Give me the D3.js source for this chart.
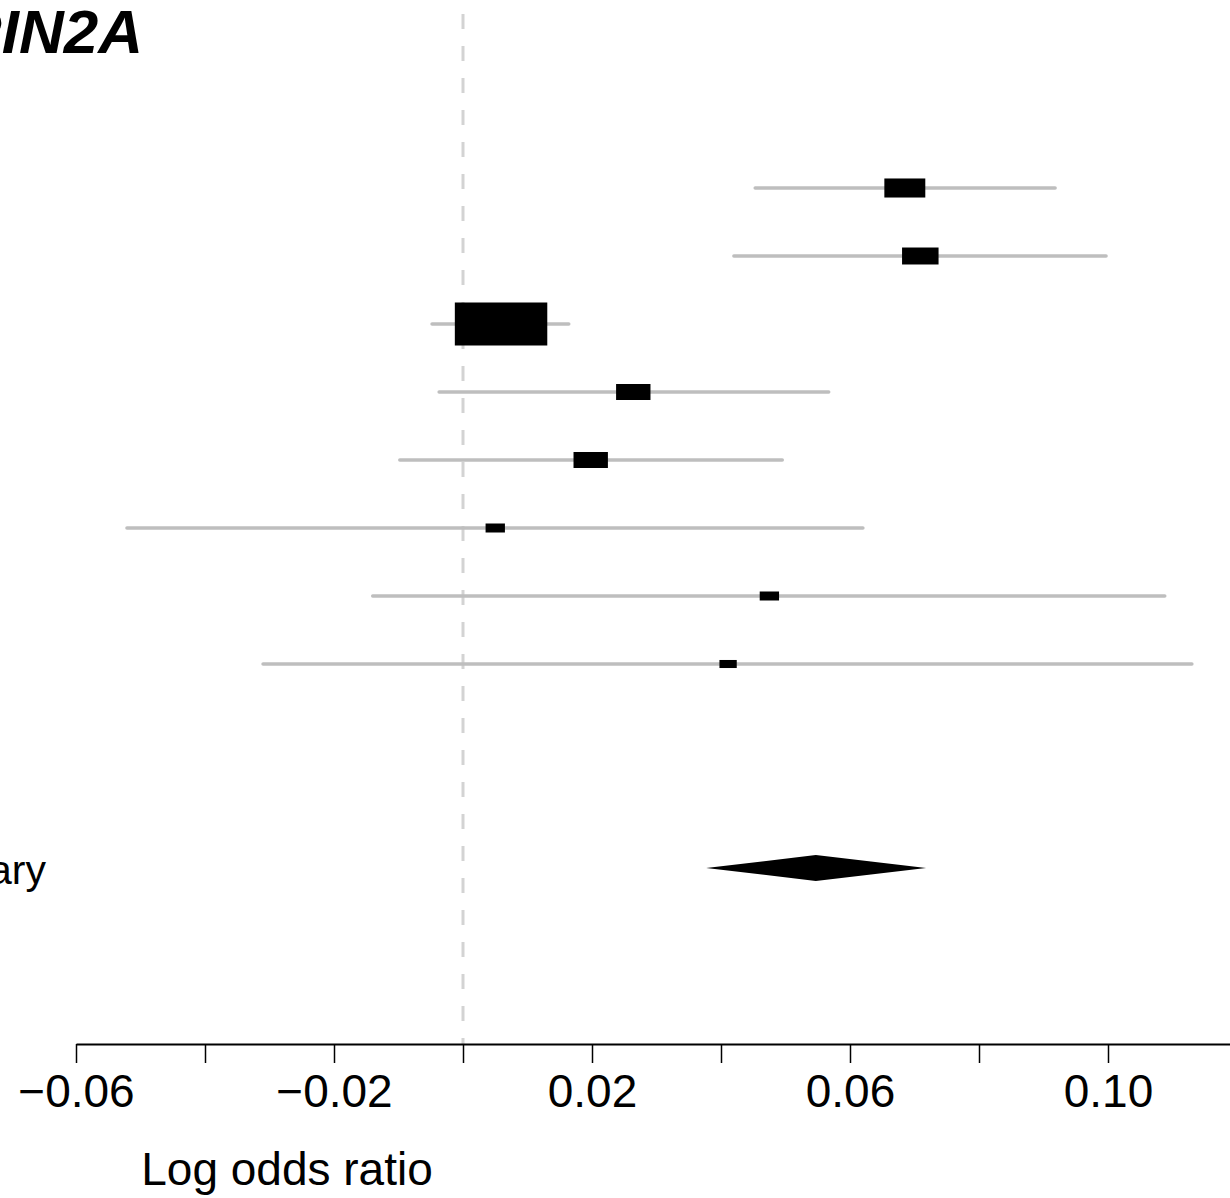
<!DOCTYPE html>
<html><head><meta charset="utf-8">
<script src="https://cdn.jsdelivr.net/npm/d3@7"></script>
<style>body{margin:0;background:#fff;} svg{display:block;font-family:"Liberation Sans",Arial,Helvetica,sans-serif;}</style>
</head><body><svg id="c" width="1230" height="1198"></svg>
<script>
const title = "GRIN2A";
const estimates = [0.0685, 0.0709, 0.0059, 0.0264, 0.0198, 0.0050, 0.0475, 0.0411];
const lower     = [0.0453, 0.0420, -0.0048, -0.0037, -0.0098, -0.0521, -0.0140, -0.0310];
const upper     = [0.0918, 0.0997, 0.0164, 0.0567, 0.0495, 0.0620, 0.1088, 0.1130];
const weights   = [11.2, 8.9, 57.1, 7.9, 7.9, 2.5, 2.5, 2.0];
const summaryLabel = "Summary";
const summaryEst = 0.0547, summaryLo = 0.0377, summaryHi = 0.0718;
const tickValues = [-0.06, -0.04, -0.02, 0, 0.02, 0.04, 0.06, 0.08, 0.10, 0.12];
const tickLabels = ["\u22120.06", "", "\u22120.02", "", "0.02", "", "0.06", "", "0.10", ""];
const xLabel = "Log odds ratio";

const svg = d3.select("#c");
const x = d3.scaleLinear().domain([-0.06, 0.12]).range([76, 1237]);
const y = d3.scaleLinear().domain([0, 10]).range([188, 868]);
const h = d3.scaleSqrt().domain([0, d3.max(weights)]).range([0, 43]);
const axisY = 1044;

// null line
svg.append("line").attr("x1", x(0)).attr("x2", x(0)).attr("y1", 14).attr("y2", axisY)
  .attr("stroke", "#d3d3d3").attr("stroke-width", 3).attr("stroke-dasharray", "15,17");

const rows = estimates.map((e, i) => ({e, lo: lower[i], hi: upper[i], w: weights[i], i}));
const g = svg.append("g");
g.selectAll("line.ci").data(rows).join("line").attr("class", "ci")
  .attr("x1", d => x(d.lo)).attr("x2", d => x(d.hi))
  .attr("y1", d => y(d.i)).attr("y2", d => y(d.i))
  .attr("stroke", "#bebebe").attr("stroke-width", 3.5).attr("stroke-linecap", "round");
g.selectAll("rect.box").data(rows).join("rect").attr("class", "box")
  .attr("x", d => x(d.e) - h(d.w) * 1.075).attr("width", d => h(d.w) * 2.15)
  .attr("y", d => y(d.i) - h(d.w) / 2).attr("height", d => h(d.w))
  .attr("fill", "#000");

// summary diamond
const sy = y(10);
svg.append("path")
  .attr("d", d3.line()([[x(summaryLo), sy], [x(summaryEst), sy - 13], [x(summaryHi), sy], [x(summaryEst), sy + 13]]) + "Z")
  .attr("fill", "#000");
svg.append("text").attr("x", 46).attr("y", sy + 16).attr("text-anchor", "end")
  .attr("font-size", 41).text(summaryLabel);

// title
svg.append("text").attr("x", 143).attr("y", 53).attr("text-anchor", "end")
  .attr("font-size", 62).attr("font-weight", "bold").attr("font-style", "italic").text(title);

// axis
const ax = svg.append("g").attr("transform", `translate(0,${axisY})`)
  .call(d3.axisBottom(x).tickValues(tickValues).tickFormat((d, i) => tickLabels[i])
    .tickSize(19).tickSizeOuter(0).tickPadding(11));
ax.select(".domain").attr("stroke", "#000").attr("stroke-width", 2);
ax.selectAll(".tick line").attr("stroke", "#000").attr("stroke-width", 1.5);
ax.selectAll(".tick text").attr("font-size", 46).attr("fill", "#000")
  .attr("font-family", "'Liberation Sans',Arial,sans-serif");

svg.append("text").attr("x", 287).attr("y", 1185).attr("text-anchor", "middle")
  .attr("font-size", 46).text(xLabel);
</script></body></html>
